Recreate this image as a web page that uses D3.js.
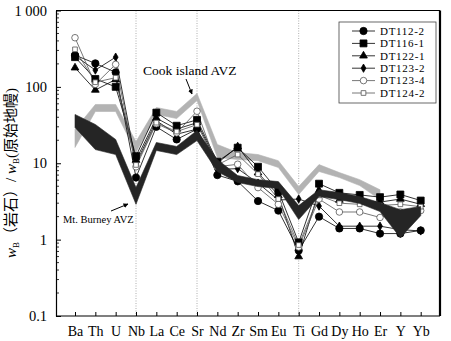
<!DOCTYPE html>
<html><head><meta charset="utf-8">
<script src="https://cdn.jsdelivr.net/npm/d3@7"></script>
<style>
html,body{margin:0;padding:0;background:#fff;}
</style></head>
<body>
<svg id="chart" width="451" height="341"></svg>
<script>
const categories = ["Ba","Th","U","Nb","La","Ce","Sr","Nd","Zr","Sm","Eu","Ti","Gd","Dy","Ho","Er","Y","Yb"];
const yTickValues = [0.1, 1, 10, 100, 1000];
const yTickLabels = ["0.1", "1", "10", "100", "1 000"];
const dividerCats = ["Nb", "Sr", "Ti"];

const seriesNames = ["DT112-2","DT116-1","DT122-1","DT123-2","DT123-4","DT124-2"];
const dt112_2 = [260, 203, 155, 6.5, 30, 20.5, 28, 7.0, 5.8, 3.2, 2.4, 0.72, 2.0, 1.4, 1.4, 1.2, 1.2, 1.32];
const dt116_1 = [245, 127, 100, 12.4, 46, 31, 37, 10.5, 16, 9.0, 4.3, 0.92, 5.4, 4.1, 3.85, 3.6, 3.9, 3.25];
const dt122_1 = [178, 91, 125, 11, 39, 28, 34, 10, 16.5, 7.5, 3.8, 0.6, 4.4, 3.3, 3.3, 3.1, 3.4, 2.9];
const dt123_2 = [255, 166, 245, 10, 36, 24, 28, 8.3, 8.5, 5.5, 3.3, 3.4, 2.75, 1.5, 1.5, 1.5, 1.35, 1.3];
const dt123_4 = [440, 108, 197, 9, 33, 25, 48, 9, 9.7, 4.8, 2.9, 0.8, 3.4, 2.3, 2.3, 1.95, 2.3, 2.4];
const dt124_2 = [310, 115, 132, 9.5, 34, 26, 32, 9.5, 13, 7.2, 3.4, 0.85, 3.8, 3.0, 2.9, 2.8, 2.9, 2.7];

// Cook island AVZ field (Ba..Er)
const cookCats  = ["Ba","Th","U","Nb","La","Ce","Sr","Nd","Zr","Sm","Eu","Ti","Gd","Dy","Ho","Er"];
const cookUpper = [27.7, 58.8, 58.8, 19.2, 53.7, 47.6, 81.9, 17.6, 13.8, 13.0, 10.8, 4.95, 9.6, 7.55, 6.1, 4.5];
const cookLower = [16.1, 47.6, 47.6, 13.8, 43.5, 38.5, 66.3, 11.9, 11.2, 10.8, 8.8, 3.89, 7.8, 6.5, 5.1, 3.34];
// Mt. Burney AVZ field
const burneyUpper = [43.5, 32.2, 20.5, 4.8, 18.7, 16.6, 26.8, 11.2, 6.9, 6.1, 5.75, 2.79, 4.5, 4.13, 3.66, 3.05, 2.47, 2.71];
const burneyLower = [29.4, 15.1, 13.0, 2.9, 14.7, 13.0, 19.8, 7.8, 5.6, 4.95, 4.66, 1.83, 3.66, 3.34, 2.97, 2.33, 1.06, 2.06];

const seriesValues = [dt112_2, dt116_1, dt122_1, dt123_2, dt123_4, dt124_2];
const seriesStyle = [
  {sym: d3.symbolCircle, size: 42, fill: "#000", stroke: "#000", line: "#000"},
  {sym: d3.symbolSquare, size: 48, fill: "#000", stroke: "#000", line: "#000"},
  {sym: d3.symbolTriangle, size: 26, fill: "#000", stroke: "#000", line: "#000"},
  {sym: d3.symbolDiamond, size: 20, fill: "#000", stroke: "#000", line: "#000"},
  {sym: d3.symbolCircle, size: 34, fill: "#fff", stroke: "#555", line: "#555"},
  {sym: d3.symbolSquare, size: 22, fill: "#fff", stroke: "#555", line: "#555"}
];

const SERIF = "'Liberation Serif', 'Times New Roman', Times, serif";
const svg = d3.select("#chart");
const L = 56, R = 440, T = 10.5, B = 316;
const x = d3.scalePoint().domain(categories).range([75, 420.7]);
const y = d3.scaleLog().domain([0.1, 1000]).range([B, T]);

// divider lines
svg.append("g").selectAll("line").data(dividerCats).join("line")
  .attr("x1", d => x(d)).attr("x2", d => x(d)).attr("y1", T).attr("y2", B)
  .attr("stroke", "#999").attr("stroke-width", 0.8).attr("stroke-dasharray", "1,1.5");

// Cook island field (grey)
const area = d3.area().x(d => x(d.c)).y0(d => y(d.lo)).y1(d => y(d.hi));
svg.append("path")
  .datum(cookCats.map((c, i) => ({c, hi: cookUpper[i], lo: cookLower[i]})))
  .attr("d", area).attr("fill", "#b3b3b3").attr("stroke", "#b3b3b3").attr("stroke-width", 0.6);

// series
const lineGen = d3.line().x((d, i) => x(categories[i])).y(d => y(d));
seriesValues.forEach((vals, k) => {
  const st = seriesStyle[k];
  svg.append("path").datum(vals).attr("d", lineGen)
    .attr("fill", "none").attr("stroke", st.line).attr("stroke-width", 0.8);
});
seriesValues.forEach((vals, k) => {
  const st = seriesStyle[k];
  svg.append("g").selectAll("path").data(vals).join("path")
    .attr("transform", (d, i) => `translate(${x(categories[i])},${y(d)})`)
    .attr("d", d3.symbol().type(st.sym).size(st.size))
    .attr("fill", st.fill).attr("stroke", st.stroke).attr("stroke-width", 0.8);
});

// Mt. Burney field (dark)
svg.append("path")
  .datum(categories.map((c, i) => ({c, hi: burneyUpper[i], lo: burneyLower[i]})))
  .attr("d", area).attr("fill", "#252525").attr("stroke", "#252525").attr("stroke-width", 0.6);

// frame
svg.append("line").attr("x1", L).attr("x2", R).attr("y1", T).attr("y2", T).attr("stroke", "#000").attr("stroke-width", 1.2);
svg.append("line").attr("x1", R).attr("x2", R).attr("y1", T).attr("y2", B).attr("stroke", "#000").attr("stroke-width", 2.2);

// y axis
const yAxis = d3.axisLeft(y).tickValues(yTickValues).tickFormat((d, i) => yTickLabels[i]).tickSizeInner(-5).tickSizeOuter(0).tickPadding(9);
const gy = svg.append("g").attr("transform", `translate(${L},0)`).call(yAxis).attr("font-family", SERIF);
gy.select(".domain").attr("stroke", "#000").attr("stroke-width", 1.2);
gy.selectAll("text").attr("font-size", 14.5).attr("fill", "#000").style("font-family", SERIF);
// minor ticks
const minor = [];
for (let e = -1; e < 3; e++) for (let m = 2; m <= 9; m++) minor.push(m * Math.pow(10, e));
svg.append("g").selectAll("line").data(minor).join("line")
  .attr("x1", L).attr("x2", L + 3).attr("y1", d => y(d)).attr("y2", d => y(d))
  .attr("stroke", "#000").attr("stroke-width", 0.8);

// x axis
const xAxis = d3.axisBottom(x).tickSizeInner(-4).tickSizeOuter(0).tickPadding(10);
const gx = svg.append("g").attr("transform", `translate(0,${B})`).call(xAxis).attr("font-family", SERIF);
gx.select(".domain").attr("d", `M${L},0H${R}`).attr("stroke", "#000").attr("stroke-width", 1.2);
gx.selectAll("text").attr("font-size", 14).attr("fill", "#000").style("font-family", SERIF);

// y title
const yt = svg.append("text").attr("transform", "translate(16,173) rotate(-90)")
  .attr("text-anchor", "middle").attr("font-size", 15).attr("fill", "#000")
  .style("font-family", "'Liberation Serif', 'Noto Sans CJK SC', serif");
yt.append("tspan").attr("font-style", "italic").text("w");
yt.append("tspan").attr("font-size", 9).attr("dy", 3).text("B");
yt.append("tspan").attr("dy", -3).text("（岩石）/ ");
yt.append("tspan").attr("font-style", "italic").text("w");
yt.append("tspan").attr("font-size", 9).attr("dy", 3).text("B");
yt.append("tspan").attr("dy", -3).text("(原始地幔)");

// annotations
const defs = svg.append("defs");
defs.append("marker").attr("id", "ah").attr("viewBox", "0 0 10 10").attr("refX", 9).attr("refY", 5)
  .attr("markerWidth", 5).attr("markerHeight", 5).attr("orient", "auto")
  .append("path").attr("d", "M0,0L10,5L0,10Z").attr("fill", "#000");
svg.append("text").attr("x", 143).attr("y", 75).attr("font-size", 13.5).attr("fill", "#000")
  .style("font-family", SERIF).text("Cook island AVZ");
svg.append("line").attr("x1", 186).attr("y1", 79).attr("x2", 192).attr("y2", 94)
  .attr("stroke", "#000").attr("stroke-width", 1).attr("marker-end", "url(#ah)");
svg.append("text").attr("x", 63).attr("y", 223).attr("font-size", 10.5).attr("fill", "#000")
  .style("font-family", SERIF).text("Mt. Burney AVZ");
svg.append("line").attr("x1", 111).attr("y1", 211).attr("x2", 128).attr("y2", 204)
  .attr("stroke", "#000").attr("stroke-width", 1).attr("marker-end", "url(#ah)");

// legend
const lg = svg.append("g");
lg.append("rect").attr("x", 339).attr("y", 22).attr("width", 97).attr("height", 81)
  .attr("fill", "#fff").attr("stroke", "#444").attr("stroke-width", 0.8);
seriesNames.forEach((name, k) => {
  const st = seriesStyle[k];
  const yy = 31 + k * 12.4;
  lg.append("line").attr("x1", 352).attr("x2", 375).attr("y1", yy).attr("y2", yy)
    .attr("stroke", st.line).attr("stroke-width", 0.8);
  lg.append("path").attr("transform", `translate(363.5,${yy})`)
    .attr("d", d3.symbol().type(st.sym).size(st.size))
    .attr("fill", st.fill).attr("stroke", st.stroke).attr("stroke-width", 0.8);
  lg.append("text").attr("x", 380).attr("y", yy + 3.8).attr("font-size", 11).attr("letter-spacing", 0.7)
    .attr("fill", "#000").style("font-family", SERIF).text(name);
});
</script>
</body></html>
